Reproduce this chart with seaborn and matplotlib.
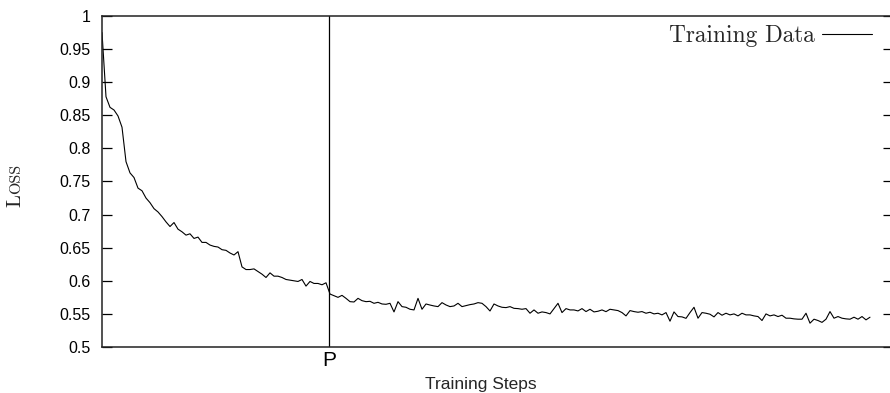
import numpy as np
import pandas as pd
import matplotlib
matplotlib.use("Agg")
import matplotlib.pyplot as plt
import seaborn as sns

# loss, one value every ~4 px of the x axis
loss = [
    0.975, 0.878, 0.862, 0.858, 0.849, 0.832, 0.780, 0.763, 0.756, 0.740,
    0.736, 0.725, 0.718, 0.709, 0.704, 0.697, 0.689, 0.682, 0.688, 0.678,
    0.674, 0.669, 0.671, 0.664, 0.666, 0.658, 0.658, 0.654, 0.652, 0.651,
    0.647, 0.646, 0.642, 0.639, 0.644, 0.621, 0.617, 0.617, 0.618, 0.614,
    0.610, 0.605, 0.612, 0.607, 0.607, 0.605, 0.602, 0.601, 0.600, 0.599,
    0.602, 0.592, 0.599, 0.596, 0.596, 0.594, 0.597, 0.580, 0.5775, 0.575,
    0.578, 0.5735, 0.5685, 0.568, 0.5735, 0.570, 0.5685, 0.569, 0.566, 0.5675,
    0.565, 0.5645, 0.566, 0.553, 0.5685, 0.561, 0.560, 0.557, 0.556, 0.5735,
    0.557, 0.565, 0.5634, 0.562, 0.561, 0.567, 0.5635, 0.561, 0.562, 0.566,
    0.561, 0.5625, 0.564, 0.565, 0.567, 0.566, 0.561, 0.5544, 0.565, 0.562,
    0.560, 0.5595, 0.561, 0.5584, 0.558, 0.557, 0.558, 0.551, 0.556, 0.551,
    0.553, 0.552, 0.550, 0.558, 0.566, 0.552, 0.558, 0.556, 0.556, 0.5545,
    0.558, 0.5535, 0.557, 0.553, 0.554, 0.556, 0.5534, 0.557, 0.556, 0.555,
    0.552, 0.547, 0.555, 0.5535, 0.5525, 0.5535, 0.551, 0.5525, 0.550, 0.551,
    0.5485, 0.552, 0.539, 0.553, 0.546, 0.5455, 0.5433, 0.552, 0.560, 0.5435,
    0.552, 0.551, 0.5495, 0.5455, 0.552, 0.548, 0.551, 0.5485, 0.550, 0.547,
    0.551, 0.5485, 0.5485, 0.547, 0.546, 0.540, 0.550, 0.547, 0.5485, 0.546,
    0.548, 0.5435, 0.5435, 0.5425, 0.542, 0.542, 0.551, 0.536, 0.542, 0.540,
    0.5372, 0.542, 0.5535, 0.5435, 0.546, 0.5435, 0.5425, 0.542, 0.545, 0.542,
    0.546, 0.541, 0.545,
]
y_ticks = [0.5, 0.55, 0.6, 0.65, 0.7, 0.75, 0.8, 0.85, 0.9, 0.95, 1.0]
y_tick_labels = ["0.5", "0.55", "0.6", "0.65", "0.7", "0.75", "0.8", "0.85", "0.9", "0.95", "1"]
p_step = 56.75
x_max = 197.75
series_label = "Training Data"

df = pd.DataFrame({"step": np.arange(len(loss)), "loss": loss})

sns.set_style("ticks")
plt.rcParams["font.family"] = ["Liberation Sans", "DejaVu Sans"]

fig = plt.figure(figsize=(8.9, 3.93), dpi=100)
# right edge sits just past the image border, as in the reference
ax = fig.add_axes([102 / 890, 1 - 347 / 393, 791 / 890, 331 / 393])

sns.lineplot(data=df, x="step", y="loss", color="black", linewidth=0.8,
             label=series_label, ax=ax)
ax.axvline(p_step, color="black", linewidth=0.9)

ax.set_xlim(0, x_max)
ax.set_ylim(0.5, 1.0)
ax.set_yticks(y_ticks, y_tick_labels, fontsize=11.5)
ax.set_xticks([p_step], ["P"], fontsize=15)
ax.tick_params(axis="y", direction="in", length=7, width=0.9, right=True,
               labelright=False, pad=8, colors="black")
ax.tick_params(axis="x", direction="in", length=0, pad=3, colors="black")
for sp in ax.spines.values():
    sp.set_visible(True)
    sp.set_linewidth(1.1)
    sp.set_color("#222222")

ax.set_xlabel("Training Steps", fontsize=12.5)
ax.xaxis.set_label_coords((481 - 102) / 791, -0.09)
ax.set_ylabel("")

# small-caps style "Loss" label
fig.text(20 / 890, 1 - 207 / 393, "L", rotation=90, rotation_mode="anchor",
         ha="left", va="baseline", fontsize=15, family="cmr10")
fig.text(20 / 890, 1 - 194 / 393, "OSS", rotation=90, rotation_mode="anchor",
         ha="left", va="baseline", fontsize=11.5, family="cmr10")

ax.legend(loc="upper right", bbox_to_anchor=((872 - 102) / 791, 0.972), frameon=False,
          markerfirst=False, handlelength=2.15, handletextpad=0.3,
          borderaxespad=0, borderpad=0,
          prop={"family": "cmr10", "size": 16.8})

plt.savefig("out.png", dpi=100)
plt.close()
